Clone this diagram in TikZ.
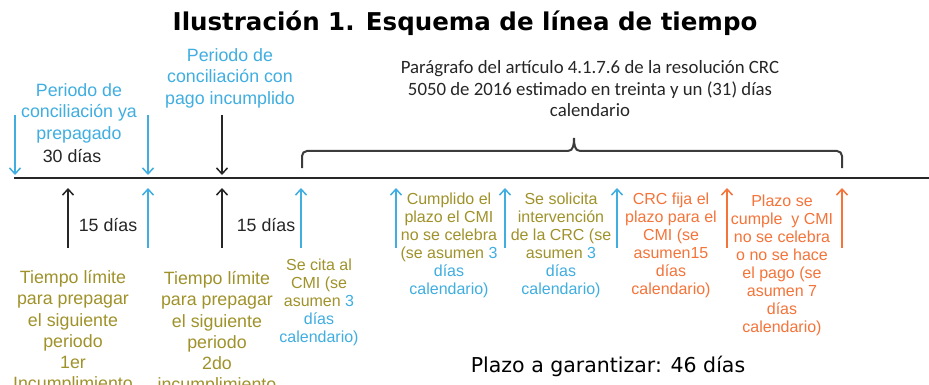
\documentclass[tikz,border=0pt]{standalone}
\usepackage{fontspec}
\setmainfont{Liberation Sans}
\newfontfamily\calfont{Carlito}
\newfontfamily\dvfont{DejaVu Sans}
\usetikzlibrary{arrows.meta}
\definecolor{cblue}{RGB}{64,174,224}
\definecolor{colive}{RGB}{160,146,42}
\definecolor{corange}{RGB}{244,116,58}
\definecolor{cdark}{RGB}{38,38,38}
\begin{document}
\begin{tikzpicture}[x=1pt,y=-1pt,
  big/.style={font=\fontsize{17.8}{21.3}\selectfont, align=center, inner sep=0pt, anchor=north},
  small/.style={font=\fontsize{16}{18}\selectfont, align=center, inner sep=0pt, anchor=north},
  arr/.style={line width=1.5pt, -{Straight Barb[length=6pt,width=11pt]}},
  axis/.style={line width=2.2pt, cdark},
  bracestyle/.style={line width=2pt, cdark!90}]
\useasboundingbox (0,0) rectangle (929,385);
\clip (0,0) rectangle (929,385);
\fill[white] (0,0) rectangle (929,385);

% title
\node[inner sep=0pt, anchor=base, font=\dvfont\bfseries\fontsize{24.5}{28}\selectfont, text=black] (title) at (465,31) {Ilustración 1. Esquema de línea de tiempo};

% timeline
\coordinate (L) at (14,178);
\coordinate (R) at (929,178);
\draw[axis] (L) -- (R);

% top arrows
\foreach \x/\c/\n in {15/cblue/a, 148/cblue/b, 222/cdark/c}{
  \coordinate (ts\n) at (\x,115);
  \coordinate (te\n) at (\x,175);
  \draw[arr,\c] (ts\n) -- (te\n);
}

% bottom arrows
\foreach \x/\c/\n in {68/cdark/a, 148/cblue/b, 222/cdark/c, 301/cblue/d, 396/cblue/e, 505/cblue/f, 617/cblue/g, 727/corange/h, 842/corange/i}{
  \coordinate (bs\n) at (\x,248);
  \coordinate (be\n) at (\x,188);
  \draw[arr,\c] (bs\n) -- (be\n);
}

% brace
\draw[bracestyle, rounded corners=5pt] (302,168) |- (568,151);
\draw[bracestyle] (568,151) to[out=0,in=-90] (574,138) to[out=-90,in=180] (580,151);
\draw[bracestyle, rounded corners=5pt] (580,151) -| (842,168);

% top texts
\node[big, text=cblue] (p1) at (79,81.3) {\strut Periodo de\\conciliación ya\\prepagado};
\node[big, anchor=base, text=cdark] (d30) at (72,163) {30 días};
\node[big, text=cblue] (p2) at (230,46.3) {\strut Periodo de\\conciliación con\\pago incumplido};
\node[inner sep=0pt, anchor=north, align=center, font=\calfont\fontsize{18.8}{21.5}\selectfont, text=cdark] (par) at (590,58.5)
  {\strut Parágrafo del artículo 4.1.7.6 de la resolución CRC\\5050 de 2016 estimado en treinta y un (31) días\\calendario};

% 15 dias
\node[big, anchor=base, text=cdark] (q1) at (108,231) {15 días};
\node[big, anchor=base, text=cdark] (q2) at (266,231) {15 días};

% bottom texts
\node[big, text=colive] (o1) at (73,268.3) {\strut Tiempo límite\\para prepagar\\el siguiente\\periodo\\1er\\Incumplimiento};
\node[big, text=colive] (o2) at (217,269.3) {\strut Tiempo límite\\para prepagar\\el siguiente\\periodo\\2do\\incumplimiento};
\node[small, text=colive] (s1) at (319,257.8) {\strut Se cita al\\CMI (se\\asumen \textcolor{cblue}{3}\\\textcolor{cblue}{días}\\\textcolor{cblue}{calendario)}};
\node[small, text=colive] (s2) at (449,191.8) {\strut Cumplido el\\plazo el CMI\\no se celebra\\(se asumen \textcolor{cblue}{3}\\\textcolor{cblue}{días}\\\textcolor{cblue}{calendario)}};
\node[small, text=colive] (s3) at (561,191.8) {\strut Se solicita\\intervención\\de la CRC (se\\asumen \textcolor{cblue}{3}\\\textcolor{cblue}{días}\\\textcolor{cblue}{calendario)}};
\node[small, text=corange] (s4) at (671,191.8) {\strut CRC fija el\\plazo para el\\CMI (se\\asumen15\\días\\calendario)};
\node[small, text=corange] (s5) at (782,193.8) {\strut Plazo se\\cumple\ \ y CMI\\no se celebra\\o no se hace\\el pago (se\\asumen 7\\días\\calendario)};

% bottom total
\node[inner sep=0pt, anchor=base, font=\dvfont\fontsize{20.5}{24}\selectfont, text=black] (tot) at (608,372) {Plazo a garantizar: 46 días};
\end{tikzpicture}
\end{document}
